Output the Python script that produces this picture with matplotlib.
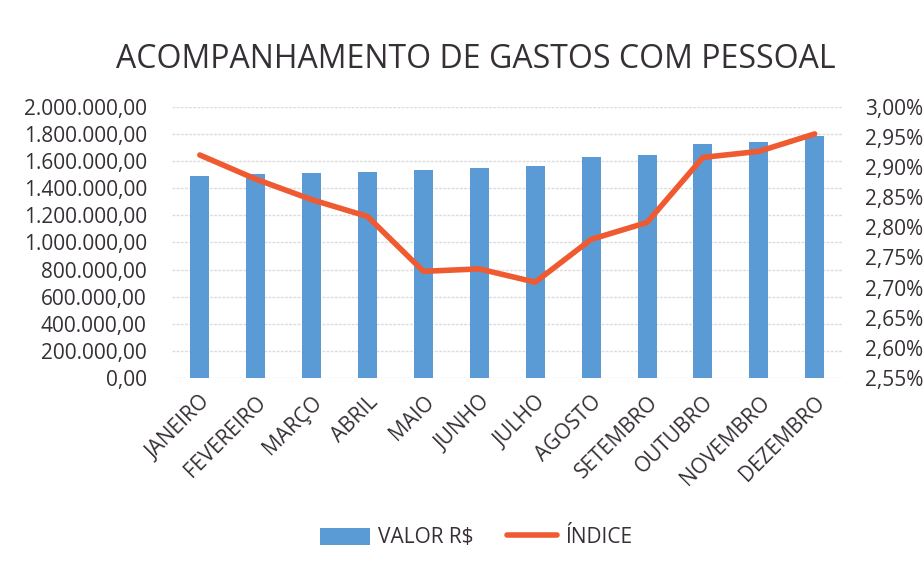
import matplotlib
matplotlib.use("Agg")
import matplotlib.pyplot as plt
from matplotlib.ticker import FuncFormatter, FixedLocator

months = ["JANEIRO", "FEVEREIRO", "MARÇO", "ABRIL", "MAIO", "JUNHO", "JULHO",
          "AGOSTO", "SETEMBRO", "OUTUBRO", "NOVEMBRO", "DEZEMBRO"]
valor = [1490000, 1502000, 1510000, 1520000, 1533000, 1551000, 1563000,
         1630000, 1645000, 1725000, 1738000, 1788000]
indice = [2.920, 2.880, 2.846, 2.818, 2.727, 2.731, 2.709,
          2.780, 2.808, 2.916, 2.926, 2.955]

left_ticks = [0, 200000, 400000, 600000, 800000, 1000000, 1200000,
              1400000, 1600000, 1800000, 2000000]
right_ticks = [2.55, 2.60, 2.65, 2.70, 2.75, 2.80, 2.85, 2.90, 2.95, 3.00]

plt.rcParams['font.family'] = ['Open Sans', 'DejaVu Sans']
txt = '#363036'
bar_c = '#5b9bd5'
line_c = '#f05a30'

fig = plt.figure(figsize=(9.24, 5.71), dpi=100)
ax = fig.add_axes([0.186, 0.338, 0.726, 0.475])
x = list(range(len(months)))
bars = ax.bar(x, valor, width=0.34, color=bar_c, zorder=2, label="VALOR R$")
ax.set_xlim(-0.5, len(months) - 0.5)
ax.set_ylim(0, 2000000)
ax.yaxis.set_major_locator(FixedLocator(left_ticks))

def br_fmt(v, pos):
    s = f"{v:,.2f}"
    return s.replace(",", "X").replace(".", ",").replace("X", ".")

ax.yaxis.set_major_formatter(FuncFormatter(br_fmt))
ax.grid(axis='y', color='#dcdcdc', linewidth=1, linestyle=(0, (2, 1)), zorder=0)
ax.set_axisbelow(True)
for s in ax.spines.values():
    s.set_visible(False)
ax.tick_params(axis='y', length=0, labelsize=15, colors=txt, pad=18)
ax.tick_params(axis='x', length=0, labelsize=15, colors=txt, pad=10)
ax.set_xticks(x)
ax.set_xticklabels(months, rotation=45, ha='right', rotation_mode='anchor')

ax2 = ax.twinx()
line, = ax2.plot(x, indice, color=line_c, linewidth=4, solid_capstyle='round',
                 solid_joinstyle='round', zorder=3, label="ÍNDICE")
ax2.set_ylim(2.55, 3.00)
ax2.yaxis.set_major_locator(FixedLocator(right_ticks))
ax2.yaxis.set_major_formatter(FuncFormatter(lambda v, p: f"{v:.2f}%".replace(".", ",")))
for s in ax2.spines.values():
    s.set_visible(False)
ax2.tick_params(axis='y', length=0, labelsize=15, colors=txt, pad=16)

fig.text(0.515, 0.895, "ACOMPANHAMENTO DE GASTOS COM PESSOAL", ha='center', va='center',
         fontsize=23, color=txt)

leg = fig.legend([bars, line], ["VALOR R$", "ÍNDICE"], loc='center',
                 bbox_to_anchor=(0.515, 0.058), ncol=2, frameon=False,
                 fontsize=15, labelcolor=txt, handlelength=2.4, handleheight=0.9,
                 columnspacing=1.6, handletextpad=0.4)

fig.savefig("out.png", dpi=100, facecolor='white')
